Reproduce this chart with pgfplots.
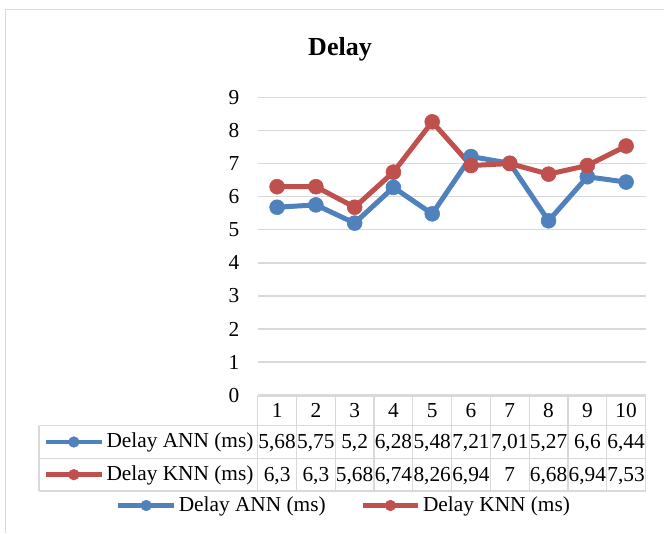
\documentclass[border=0pt]{standalone}
\usepackage{pgfplots}
\pgfplotsset{compat=1.18}
\usepackage{fontspec}
\setmainfont{Liberation Serif}
\definecolor{annblue}{HTML}{4F81BD}
\definecolor{knnred}{HTML}{C0504D}
\definecolor{gridgray}{HTML}{D9D9D9}
\pgfplotsset{
  keylegend/.style={
    legend image code/.code={\draw[##1, line width=3.4pt, mark size=4pt, mark repeat=2, mark phase=2] plot coordinates {(0pt,0pt) (20.8pt,0pt) (41.6pt,0pt)};}
  }
}
\begin{document}
\fontsize{16}{19}\selectfont
\begin{tikzpicture}
\begin{scope}[x=0.75pt,y=-0.75pt]
  \draw[gridgray, line width=0.9pt] (5.5,533) -- (5.5,9.5) -- (664,9.5);
  \node[anchor=base, font=\fontsize{19.5}{23}\selectfont\bfseries] at (340,55.5) {Delay};
\end{scope}
\begin{axis}[
  at={(193.275pt,-296.4pt)}, anchor=south west,
  scale only axis, width=290.85pt, height=223.4pt,
  xmin=0.5, xmax=10.5, ymin=0, ymax=9,
  ytick={0,1,2,3,4,5,6,7,8,9}, xtick=\empty,
  ymajorgrids, grid style={gridgray, line width=1.1pt},
  axis line style={draw=none},
  major tick length=0pt,
  yticklabel shift=8.2pt,
  /pgf/number format/assume math mode=true,
  tick label style={font=\fontsize{16}{19}\selectfont},
  clip=false,
  legend columns=2,
  keylegend,
  legend style={draw=none, fill=none, at={(0.2236,-0.3703)}, anchor=center,
    font=\fontsize{16}{19}\selectfont,
    /tikz/every even column/.append style={column sep=24pt}},
]
\addplot[annblue, line width=3.75pt, line join=round, mark=*, mark size=5.6pt, mark options={line width=0.4pt}]
  coordinates {(1,5.68) (2,5.75) (3,5.2) (4,6.28) (5,5.48) (6,7.21) (7,7.01) (8,5.27) (9,6.6) (10,6.44)};
\addlegendentry{Delay ANN (ms)}
\addplot[knnred, line width=3.75pt, line join=round, mark=*, mark size=5.6pt, mark options={line width=0.4pt}]
  coordinates {(1,6.3) (2,6.3) (3,5.68) (4,6.74) (5,8.26) (6,6.94) (7,7) (8,6.68) (9,6.94) (10,7.53)};
\addlegendentry{Delay KNN (ms)}
\end{axis}
% row keys of the data table
\begin{axis}[
  at={(32.7pt,-331.5pt)}, anchor=south west, scale only axis, width=1pt, height=1pt,
  hide axis, xmin=0, xmax=1, ymin=0, ymax=1, keylegend,
  legend style={draw=none, fill=none, at={(0,0)}, anchor=west, inner sep=0pt,
    font=\fontsize{16}{19}\selectfont},
]
\addlegendimage{annblue, line width=3.75pt, mark=*, mark options={line width=0.4pt}}
\addlegendentry{Delay ANN (ms)}
\end{axis}
\begin{axis}[
  at={(32.7pt,-356.0pt)}, anchor=south west, scale only axis, width=1pt, height=1pt,
  hide axis, xmin=0, xmax=1, ymin=0, ymax=1, keylegend,
  legend style={draw=none, fill=none, at={(0,0)}, anchor=west, inner sep=0pt,
    font=\fontsize{16}{19}\selectfont},
]
\addlegendimage{knnred, line width=3.75pt, mark=*, mark options={line width=0.4pt}}
\addlegendentry{Delay KNN (ms)}
\end{axis}
\begin{scope}[x=0.75pt,y=-0.75pt]
  % data table grid
  \draw[gridgray, line width=0.9pt] (257.7,396) -- (645.5,396);
  \draw[gridgray, line width=0.9pt] (39,425.7) -- (645.5,425.7);
  \draw[gridgray, line width=0.9pt] (39,458.3) -- (645.5,458.3);
  \draw[gridgray, line width=0.9pt] (39,491) -- (645.5,491);
  \draw[gridgray, line width=0.9pt] (39,425.7) -- (39,491);
  \foreach \k in {0,...,10} {
    \draw[gridgray, line width=0.9pt] (257.7+38.78*\k,396) -- (257.7+38.78*\k,491);
  }
  \foreach \i in {1,...,10} {
    \node[anchor=base, inner sep=0pt] at (257.7+38.78*\i-19.39,417) {\i};
  }
  \foreach \v [count=\i] in {{5,68},{5,75},{5,2},{6,28},{5,48},{7,21},{7,01},{5,27},{6,6},{6,44}} {
    \node[anchor=base, inner sep=0pt] at (257.7+38.78*\i-19.39,448.5) {\v};
  }
  \foreach \v [count=\i] in {{6,3},{6,3},{5,68},{6,74},{8,26},{6,94},{7},{6,68},{6,94},{7,53}} {
    \node[anchor=base, inner sep=0pt] at (257.7+38.78*\i-19.39,481) {\v};
  }
\end{scope}
\pgfresetboundingbox
\path[x=0.75pt,y=-0.75pt] (0,0) rectangle (664,533);
\end{tikzpicture}
\end{document}
